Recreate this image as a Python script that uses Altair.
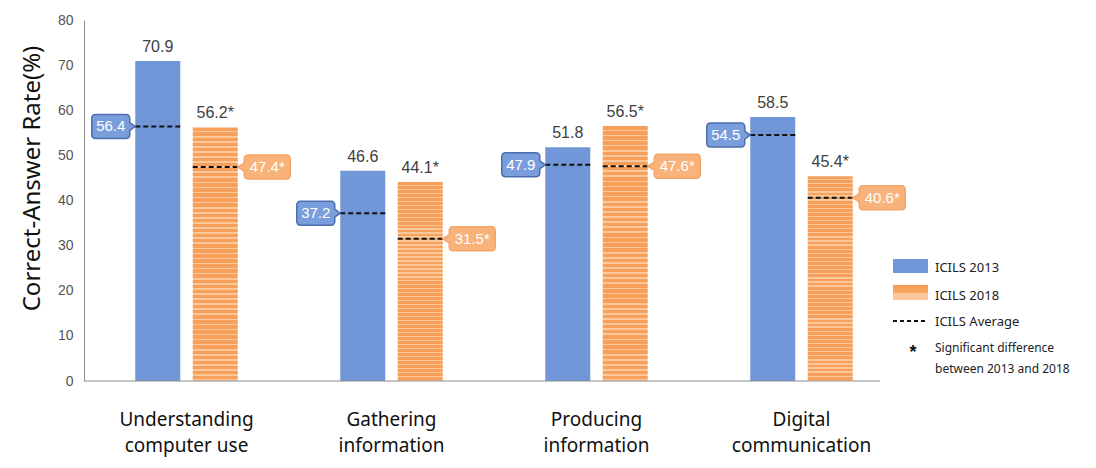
import altair as alt
import pandas as pd

# ---------------- data ----------------
categories = ["Understanding\ncomputer use", "Gathering\ninformation",
              "Producing\ninformation", "Digital\ncommunication"]
series = ["ICILS 2013", "ICILS 2018"]
rate_2013 = [70.9, 46.6, 51.8, 58.5]
rate_2018 = [56.2, 44.1, 56.5, 45.4]
avg_2013 = [56.4, 37.2, 47.9, 54.5]
avg_2018 = [47.4, 31.5, 47.6, 40.6]
sig_2018 = [True, True, True, True]
y_ticks = [0, 10, 20, 30, 40, 50, 60, 70, 80]

rows = []
for i, c in enumerate(categories):
    rows.append(dict(category=c, series=series[0], rate=rate_2013[i], avg=avg_2013[i],
                     label=f"{rate_2013[i]:.1f}", avg_label=f"{avg_2013[i]:.1f}"))
    star = "*" if sig_2018[i] else ""
    rows.append(dict(category=c, series=series[1], rate=rate_2018[i], avg=avg_2018[i],
                     label=f"{rate_2018[i]:.1f}{star}", avg_label=f"{avg_2018[i]:.1f}{star}"))
df = pd.DataFrame(rows)

# ---------------- style ----------------
BLUE = "#7197D9"
ORANGE = "#F6A05B"
ORANGE_LIGHT = "#FBC89C"
W, H = 820, 361

stops = []
n = 50
for i in range(n):
    a, b, c = i / n, (i + 0.68) / n, (i + 1) / n
    stops += [alt.GradientStop(offset=a, color=ORANGE), alt.GradientStop(offset=b, color=ORANGE),
              alt.GradientStop(offset=b, color=ORANGE_LIGHT), alt.GradientStop(offset=c, color=ORANGE_LIGHT)]
stripe = alt.LinearGradient(gradient="linear", stops=stops, x1=0, x2=0, y1=0, y2=1)

x_enc = alt.X("category:N", sort=categories,
              scale=alt.Scale(paddingInner=0.5, paddingOuter=0.25),
              axis=alt.Axis(title=None, domain=False, ticks=False, labelAngle=0,
                            labelExpr="split(datum.label, '\\n')",
                            labelFont="Noto Sans", labelFontSize=19, labelColor="#111111",
                            labelPadding=29, labelLineHeight=26, labelBaseline="top"))
xo_enc = alt.XOffset("series:N", sort=series,
                     scale=alt.Scale(domain=series, paddingInner=0.217, paddingOuter=0))
y_axis = alt.Axis(title="Correct-Answer Rate(%)", values=y_ticks, grid=False, ticks=False,
                  domainColor="#8c8c8c", labelFont="Liberation Sans", labelFontSize=14,
                  labelColor="#555555", labelPadding=11, titleFont="Noto Sans",
                  titleFontSize=24, titleFontWeight="normal", titleColor="#111111",
                  titleX=-40, titleY=158, titleAngle=270, titleAlign="center",
                  titleBaseline="bottom")
y_scale = alt.Scale(domain=[0, 80], nice=False)

base = alt.Chart(df).encode(x=x_enc, xOffset=xo_enc)

def yq(field):
    return alt.Y(f"{field}:Q", scale=y_scale, axis=y_axis)

bars13 = base.transform_filter(alt.datum.series == series[0]).mark_bar(fill=BLUE).encode(y=yq("rate"))
bars18 = base.transform_filter(alt.datum.series == series[1]).mark_bar(fill=stripe).encode(y=yq("rate"))

values = base.mark_text(font="Liberation Sans", fontSize=16, color="#404040",
                        baseline="bottom", dy=-6).encode(y=yq("rate"), text="label:N")

dash = base.mark_point(shape="M -22.5 0 L 22.5 0", size=4, filled=False, opacity=1,
                       stroke="#111111", strokeWidth=2, strokeDash=[5, 3]).encode(y=yq("avg"))

left_box = ("M -62 -12 L -32 -12 Q -28 -12 -28 -8 L -28 -4 L -22.5 0 L -28 4 L -28 8 "
            "Q -28 12 -32 12 L -62 12 Q -66 12 -66 8 L -66 -8 Q -66 -12 -62 -12 Z")
right_box = ("M 33 -12 L 71 -12 Q 75 -12 75 -8 L 75 8 Q 75 12 71 12 L 33 12 Q 29 12 29 8 "
             "L 29 4 L 22.5 0 L 29 -4 L 29 -8 Q 29 -12 33 -12 Z")

box13 = base.transform_filter(alt.datum.series == series[0]).mark_point(
    shape=left_box, size=4, filled=True, opacity=1, fill="#7A9EDB", stroke="#4C6EAE",
    strokeWidth=1.5).encode(y=yq("avg"))
box18 = base.transform_filter(alt.datum.series == series[1]).mark_point(
    shape=right_box, size=4, filled=True, opacity=1, fill="#F8B27A", stroke="#F4A566",
    strokeWidth=1.5).encode(y=yq("avg"))

txt13 = base.transform_filter(alt.datum.series == series[0]).mark_text(
    font="Liberation Sans", fontSize=15, color="white", dx=-47, baseline="middle").encode(
    y=yq("avg"), text="avg_label:N")
txt18 = base.transform_filter(alt.datum.series == series[1]).mark_text(
    font="Liberation Sans", fontSize=15, color="white", dx=52, baseline="middle").encode(
    y=yq("avg"), text="avg_label:N")

one = pd.DataFrame({"k": [0]})
baseline_rule = alt.Chart(one).mark_rule(color="#8c8c8c", strokeWidth=1).encode(
    x=alt.value(0), x2=alt.value(796), y=alt.value(H))

# ---------------- legend ----------------
leg_blue = alt.Chart(one).mark_rect(fill=BLUE).encode(
    x=alt.value(809), x2=alt.value(844), y=alt.value(239), y2=alt.value(253))
leg_grad = alt.LinearGradient(gradient="linear", x1=0, x2=0, y1=0, y2=1, stops=[
    alt.GradientStop(offset=0, color="#F59A52"), alt.GradientStop(offset=0.5, color="#F7A866"),
    alt.GradientStop(offset=0.5, color="#FBC79A"), alt.GradientStop(offset=1, color="#FBC79A")])
leg_orange = alt.Chart(one).mark_rect(fill=leg_grad).encode(
    x=alt.value(809), x2=alt.value(844), y=alt.value(265), y2=alt.value(280))
leg_dash = alt.Chart(one).mark_rule(color="#111111", strokeWidth=2, strokeDash=[4, 3]).encode(
    x=alt.value(809), x2=alt.value(843), y=alt.value(301))

def leg_text(t, x, y, size=13, weight="normal", font="Noto Sans"):
    return alt.Chart(one).mark_text(text=t, align="left", baseline="middle", font=font,
                                    fontSize=size, fontWeight=weight, color="#222222").encode(
        x=alt.value(x), y=alt.value(y))

legend = (leg_blue + leg_orange + leg_dash
          + leg_text("ICILS 2013", 851, 248)
          + leg_text("ICILS 2018", 851, 276)
          + leg_text("ICILS Average", 851, 302)
          + alt.Chart(one).mark_text(text="*", align="center", baseline="middle",
                                     font="Liberation Sans", fontSize=18, fontWeight="bold",
                                     color="#111111").encode(x=alt.value(829), y=alt.value(333))
          + leg_text("Significant  difference", 851, 328, size=12)
          + leg_text("between  2013  and  2018", 851, 349, size=12))

chart = alt.layer(bars13, bars18, values, dash, box13, box18, txt13, txt18,
                  baseline_rule, legend).properties(
    width=W, height=H, autosize="none",
    padding={"left": 84, "top": 20, "right": 1096 - 84 - W, "bottom": 468 - 20 - H},
    background="white"
).configure_view(stroke=None)

chart.save("out.html", embed_options={"renderer": "svg", "actions": False})
